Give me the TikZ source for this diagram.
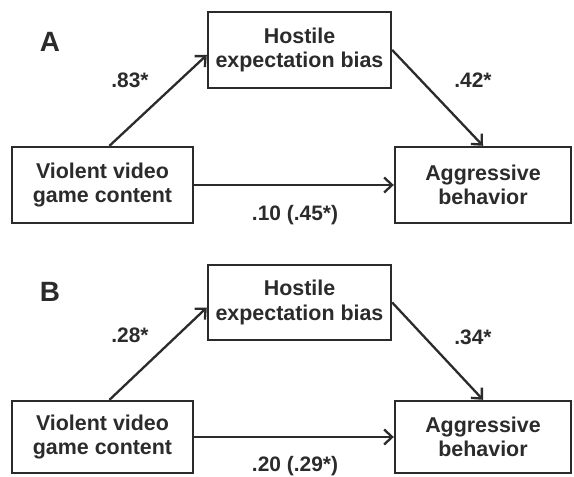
\documentclass[tikz,border=0pt]{standalone}
\usepackage{fontspec}
\setmainfont{Liberation Sans}
\usetikzlibrary{arrows.meta}
\definecolor{ink}{HTML}{2B2B2B}
\begin{document}
\begin{tikzpicture}[x=1bp,y=-1bp,
  box/.style={draw=ink,line width=2.4bp,minimum height=76bp,inner sep=0pt,align=center,
    text=ink,font=\bfseries\fontsize{21.5}{24.5}\selectfont},
  conn/.style={draw=ink,line width=2.3bp,-{Straight Barb[length=8bp,width=15bp]}},
  coef/.style={text=ink,inner sep=0pt,font=\bfseries\fontsize{21}{24}\selectfont},
  panel/.style={text=ink,inner sep=0pt,font=\bfseries\fontsize{28}{30}\selectfont}]
\fill[white] (0,0) rectangle (574,477);
\useasboundingbox (0,0) rectangle (574,477);
% Panel A
\node[panel] (labA) at (50,42) {A};
\node[box,minimum width=183bp] (hostA) at (299.5,50) {Hostile\\expectation bias};
\node[box,minimum width=181bp] (violA) at (102.5,185) {Violent video\\game content};
\node[box,minimum width=176bp] (aggrA) at (483,185) {Aggressive\\behavior};
\draw[conn] ([xshift=7bp]violA.north) -- ([yshift=-5bp]hostA.west);
\draw[conn] (hostA.east) -- (aggrA.north);
\draw[conn] (violA.east) -- (aggrA.west);
\node[coef] (cA1) at (130,80) {.83*};
\node[coef] (cA2) at (473,80) {.42*};
\node[coef] (cA3) at (295,215) {.10 (.45*)};
% Panel B
\node[panel] (labB) at (50,292) {B};
\node[box,minimum width=183bp,minimum height=75bp] (hostB) at (299.5,302.5) {Hostile\\expectation bias};
\node[box,minimum width=181bp,minimum height=72bp] (violB) at (102.5,437) {Violent video\\game content};
\node[box,minimum width=176bp,minimum height=72bp] (aggrB) at (483,437) {Aggressive\\behavior};
\draw[conn] ([xshift=7bp]violB.north) -- ([yshift=-5bp]hostB.west);
\draw[conn] (hostB.east) -- (aggrB.north);
\draw[conn] (violB.east) -- (aggrB.west);
\node[coef] (cB1) at (130,335) {.28*};
\node[coef] (cB2) at (473,337) {.34*};
\node[coef] (cB3) at (295,466) {.20 (.29*)};
\end{tikzpicture}
\end{document}
